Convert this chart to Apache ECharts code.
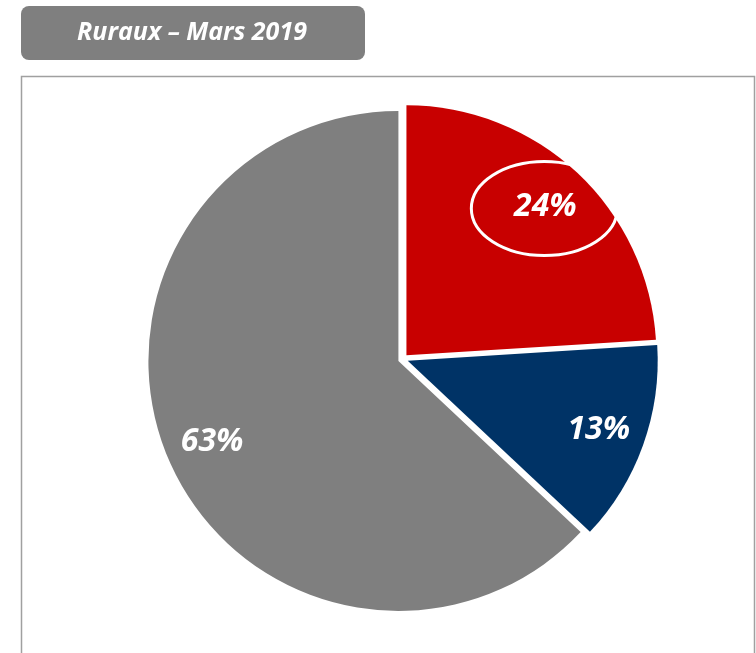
<!DOCTYPE html>
<html>
<head>
<meta charset="utf-8">
<script src="https://cdn.jsdelivr.net/npm/echarts@6/dist/echarts.min.js"></script>
<style>
  html, body { margin: 0; padding: 0; background: #fff; }
  #chart { width: 756px; height: 653px; }
</style>
</head>
<body>
<div id="chart"></div>
<script>
// données
const titleText = 'Ruraux – Mars 2019'
const sliceNames = ['Part 1', 'Part 2', 'Part 3']
const sliceValues = [24, 13, 63]
const sliceColors = ['#C80000', '#003366', '#7F7F7F']

const cx = 403
const cy = 359
const radius = 250
const explode = 5
const labelFont = 'Open Sans'

const chart = echarts.init(document.getElementById('chart'))

const pieData = sliceNames.map((name, i) => ({
  name: name,
  value: sliceValues[i],
  selected: true,
  itemStyle: { color: sliceColors[i] }
}))

// ellipse autour de l'étiquette de la première part
const total = sliceValues.reduce((a, b) => a + b, 0)
const midAngle = (sliceValues[0] / total) * Math.PI
const dist = explode + 0.8 * radius
const ellX = cx + dist * Math.sin(midAngle) + 1
const ellY = cy - dist * Math.cos(midAngle) - 1

const option = {
  animation: false,
  graphic: [
    {
      type: 'rect',
      shape: { x: 21.5, y: 76.5, width: 733, height: 620 },
      style: { fill: '#fff', stroke: '#a0a0a0', lineWidth: 1.5 },
      z: -10
    },
    {
      type: 'rect',
      shape: { x: 21, y: 6, width: 344, height: 54, r: 8 },
      style: { fill: '#7F7F7F' }
    },
    {
      type: 'text',
      x: 192,
      y: 33,
      style: {
        text: titleText,
        fill: '#fff',
        font: 'italic bold 25px "Open Sans"',
        align: 'center',
        verticalAlign: 'middle'
      }
    },
    {
      type: 'ellipse',
      shape: { cx: ellX, cy: ellY, rx: 73, ry: 47 },
      style: { fill: 'none', stroke: '#fff', lineWidth: 3 },
      z: 100
    }
  ],
  series: [
    {
      type: 'pie',
      center: [cx, cy],
      radius: radius,
      startAngle: 90,
      clockwise: true,
      selectedMode: 'multiple',
      selectedOffset: explode,
      silent: true,
      label: { show: false },
      labelLine: { show: false },
      itemStyle: { borderWidth: 0 },
      data: pieData
    },
    {
      // série transparente pour placer les étiquettes à 80% du rayon
      type: 'pie',
      center: [cx, cy],
      radius: [0.6 * radius, radius],
      startAngle: 90,
      clockwise: true,
      selectedMode: 'multiple',
      selectedOffset: explode,
      silent: true,
      itemStyle: { color: 'rgba(0,0,0,0)', borderWidth: 0 },
      label: {
        show: true,
        position: 'inside',
        formatter: (p) => p.value + '%',
        color: '#fff',
        fontFamily: labelFont,
        fontStyle: 'italic',
        fontWeight: 'bold',
        fontSize: 32
      },
      labelLine: { show: false },
      data: pieData.map((d) => ({ name: d.name, value: d.value, selected: true }))
    }
  ]
}

chart.setOption(option)
</script>
</body>
</html>
